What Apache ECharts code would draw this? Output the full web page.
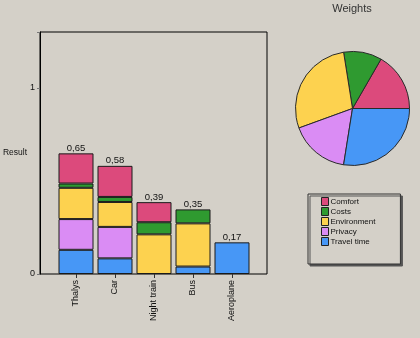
<!DOCTYPE html>
<html><head><meta charset="utf-8">
<script src="https://cdn.jsdelivr.net/npm/echarts@6/dist/echarts.min.js"></script>
<style>html,body{margin:0;padding:0;background:#d4d0c8}#c{width:420px;height:338px}</style>
</head><body><div id="c"></div>
<script>
var categories = ['Thalys', 'Car', 'Night train', 'Bus', 'Aeroplane'];
var criteria = ['Comfort', 'Costs', 'Environment', 'Privacy', 'Travel time'];
var comfort = [0.162, 0.167, 0.108, 0, 0];
var costs = [0.023, 0.027, 0.065, 0.075, 0];
var environment = [0.168, 0.134, 0.213, 0.232, 0];
var privacy = [0.165, 0.169, 0, 0, 0];
var travelTime = [0.13, 0.084, 0, 0.04, 0.17];
var weights = [60, 39, 101, 61, 99];
var yTicks = [0, 1];

var colors = {
  'Comfort': '#dc4a7c', 'Costs': '#2f9a30', 'Environment': '#fdd24f',
  'Privacy': '#da8cf4', 'Travel time': '#4797f6'
};
var FONT = 'Liberation Sans';
var totals = categories.map(function (c, i) {
  return comfort[i] + costs[i] + environment[i] + privacy[i] + travelTime[i];
});

function barSeries(name, data) {
  return {
    type: 'bar', name: name, stack: 'total', xAxisIndex: 1, yAxisIndex: 1,
    barWidth: 35, data: data.map(function (v) { return v === 0 ? '-' : v; }),
    itemStyle: { color: colors[name], borderColor: '#1a1a1a', borderWidth: 1 },
    emphasis: { disabled: true }
  };
}

var chart = echarts.init(document.getElementById('c'));
chart.setOption({
  backgroundColor: '#d4d0c8',
  animation: false,
  textStyle: { fontFamily: FONT },
  title: {
    text: 'Weights', left: 352, top: 3, textAlign: 'center', padding: 0,
    textStyle: { fontSize: 11, fontWeight: 'normal', color: '#333', fontFamily: FONT }
  },
  legend: {
    orient: 'vertical', left: 308, top: 194, selectedMode: false,
    data: criteria, icon: 'rect', itemWidth: 7, itemHeight: 8, itemGap: 1,
    padding: [3, 25, 18, 13],
    backgroundColor: '#d4d0c8', borderColor: '#333', borderWidth: 1,
    shadowColor: '#555', shadowOffsetX: 2, shadowOffsetY: 2, shadowBlur: 0,
    itemStyle: { borderColor: '#222', borderWidth: 1 },
    textStyle: { fontSize: 8, lineHeight: 8, color: '#111', fontFamily: FONT, padding: [0, 0, 0, -3] }
  },
  grid: [
    { left: 40, right: 153, top: 32, bottom: 64, outerBoundsMode: 'none', containLabel: false, show: true, borderColor: '#000', borderWidth: 1, backgroundColor: 'transparent' },
    { left: 56.5, right: 168.5, top: 32, bottom: 64, outerBoundsMode: 'none', containLabel: false }
  ],
  xAxis: [
    { type: 'value', gridIndex: 0, show: false, min: 0, max: 1 },
    {
      type: 'category', gridIndex: 1, data: categories,
      axisLine: { show: false },
      axisTick: { show: true, alignWithLabel: true, length: 4, lineStyle: { color: '#333' } },
      axisLabel: { rotate: 90, margin: 6, fontSize: 9, color: '#111', fontFamily: FONT }
    }
  ],
  yAxis: [
    {
      type: 'value', gridIndex: 0, min: 0, max: 1.3, interval: 1,
      name: 'Result', nameLocation: 'middle', nameRotate: 0, nameGap: 13, nameMoveOverlap: false,
      nameTextStyle: { fontSize: 8.5, color: '#111', align: 'right', fontFamily: FONT },
      axisLine: { show: true, lineStyle: { color: '#000' } },
      axisTick: { show: true, length: 3, lineStyle: { color: '#777' } },
      splitLine: { show: false },
      axisLabel: {
        fontSize: 9, color: '#111', margin: 5, fontFamily: FONT,
        formatter: function (v) { return yTicks.indexOf(v) >= 0 ? String(v) : ''; }
      }
    },
    { type: 'value', gridIndex: 1, min: 0, max: 1.3, show: false }
  ],
  series: [
    barSeries('Travel time', travelTime),
    barSeries('Privacy', privacy),
    barSeries('Environment', environment),
    barSeries('Costs', costs),
    barSeries('Comfort', comfort),
    {
      type: 'bar', name: 'total', stack: 'total', xAxisIndex: 1, yAxisIndex: 1,
      barWidth: 35, data: categories.map(function () { return 0; }),
      itemStyle: { color: 'transparent', borderWidth: 0 },
      label: {
        show: true, position: 'top', distance: 0, fontSize: 9.5, color: '#111', fontFamily: FONT,
        formatter: function (p) { return totals[p.dataIndex].toFixed(2).replace('.', ','); }
      },
      emphasis: { disabled: true }
    },
    {
      type: 'pie', center: [352.5, 108.5], radius: 57, startAngle: 0, clockwise: false,
      label: { show: false }, labelLine: { show: false },
      itemStyle: { borderColor: '#2a2a2a', borderWidth: 1 },
      emphasis: { disabled: true },
      data: criteria.map(function (n, i) {
        return { name: n, value: weights[i], itemStyle: { color: colors[n] } };
      })
    }
  ]
});
</script></body></html>
